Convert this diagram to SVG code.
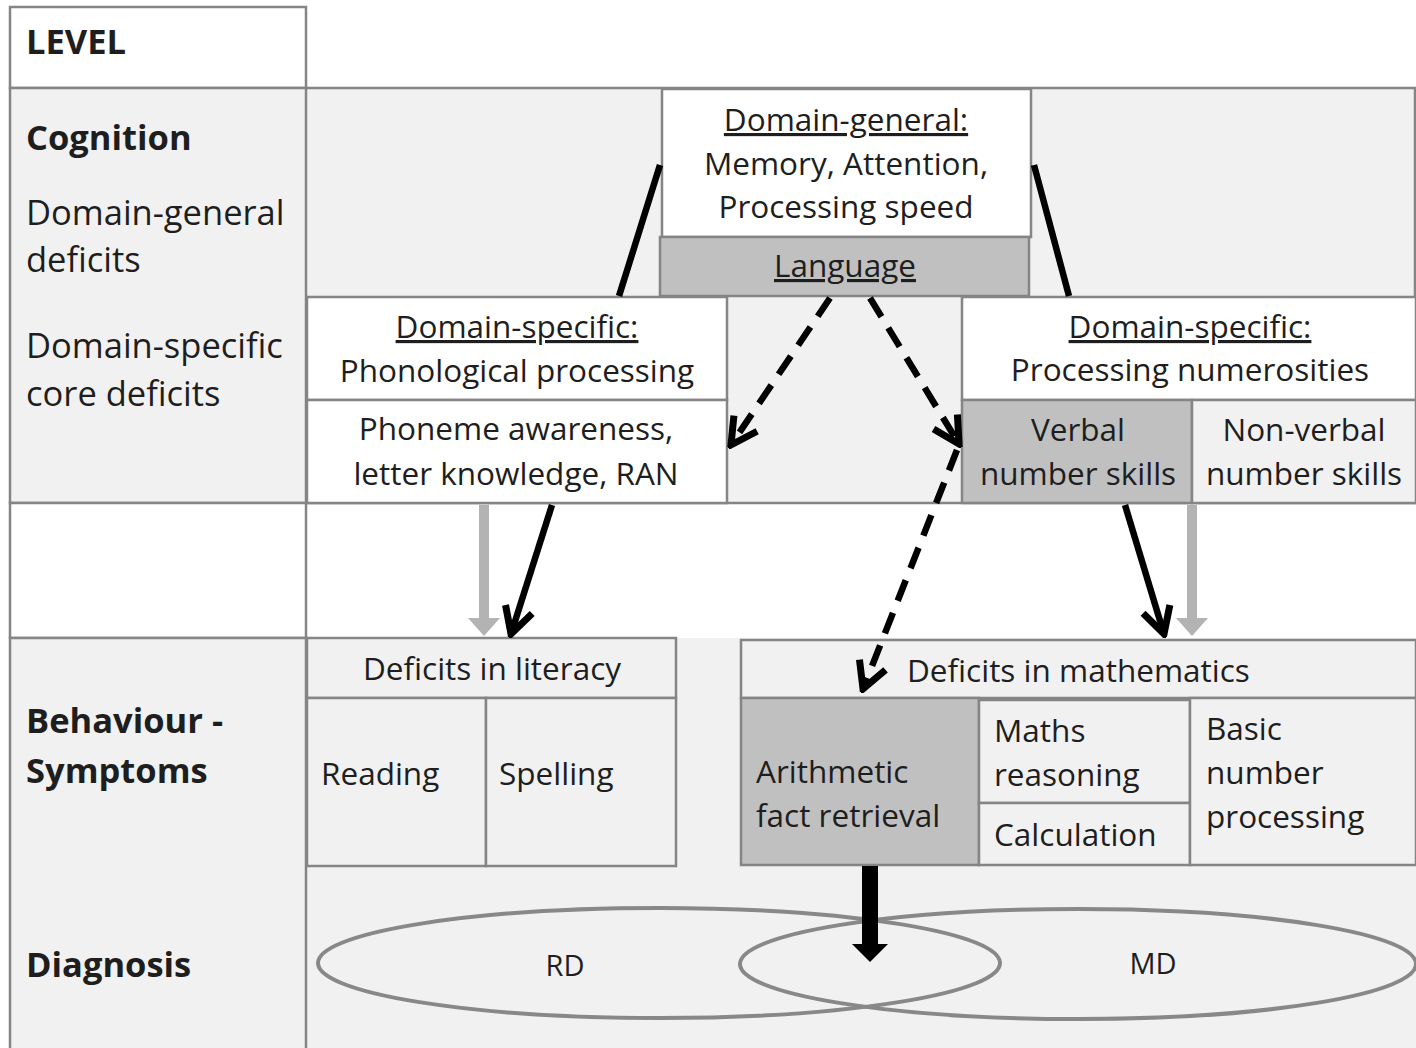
<svg xmlns="http://www.w3.org/2000/svg" width="1416" height="1048" viewBox="0 0 1416 1048">
<style>
.t{font-family:"Open Sans","Liberation Sans",sans-serif;font-size:31.5px;fill:#1e1e1e}
.l{font-family:"Open Sans","Liberation Sans",sans-serif;font-size:34.5px;fill:#1e1e1e}
.b{font-weight:bold}
.c{text-anchor:middle}
.u{text-decoration:underline}
.box{stroke:#858585;stroke-width:2.5}
.w{fill:#ffffff}
.g{fill:#f1f1f1}
.d{fill:#c0c0c0}
.blk{stroke:#000;stroke-width:6.5;fill:none}
.dash{stroke-dasharray:22 13}
.gray{stroke:#b3b3b3;stroke-width:10;fill:none}
</style>
<defs>
<marker id="v" viewBox="-32 -18 36 36" markerWidth="36" markerHeight="36" refX="0" refY="0" orient="auto" markerUnits="userSpaceOnUse">
<path d="M-26,-14 L0,0 L-26,14" fill="none" stroke="#000" stroke-width="7"/>
</marker>
</defs>
<rect x="0" y="0" width="1416" height="1048" fill="#ffffff"/>
<rect x="306" y="88" width="1110" height="415" fill="#f1f1f1"/>
<rect x="306" y="638" width="1110" height="410" fill="#f1f1f1"/>
<line x1="306" y1="88" x2="1416" y2="88" class="box"/>
<line x1="306" y1="503" x2="1416" y2="503" class="box"/>
<line x1="1415" y1="88" x2="1415" y2="503" class="box"/>

<g id="level-col">
<rect x="10" y="7" width="296" height="81" class="box w"/>
<rect x="10" y="88" width="296" height="415" class="box g"/>
<rect x="10" y="503" width="296" height="135" class="box w"/>
<rect x="10" y="638" width="296" height="412" class="box g"/>
<text x="26" y="54" class="l b">LEVEL</text>
<text x="26" y="150" class="l b">Cognition</text>
<text x="26" y="225" class="l">Domain-general</text>
<text x="26" y="272" class="l">deficits</text>
<text x="26" y="358" class="l">Domain-specific</text>
<text x="26" y="406" class="l">core deficits</text>
<text x="26" y="733" class="l b">Behaviour -</text>
<text x="26" y="783" class="l b">Symptoms</text>
<text x="26" y="977" class="l b">Diagnosis</text>
</g>

<g id="domain-general">
<rect x="662" y="89" width="369" height="148" class="box w"/>
<text x="846" y="131" class="t c u">Domain-general:</text>
<text x="846" y="175" class="t c">Memory, Attention,</text>
<text x="846" y="218" class="t c">Processing speed</text>
</g>
<g id="language">
<rect x="660" y="237" width="369" height="59" class="box d"/>
<text x="845" y="277" class="t c u">Language</text>
</g>

<g id="ds-phon">
<rect x="307" y="297" width="420" height="103" class="box w"/>
<text x="517" y="338" class="t c u">Domain-specific:</text>
<text x="517" y="382" class="t c">Phonological processing</text>
</g>
<g id="phoneme">
<rect x="307" y="400" width="420" height="103" class="box w"/>
<text x="516" y="440" class="t c">Phoneme awareness,</text>
<text x="516" y="485" class="t c">letter knowledge, RAN</text>
</g>

<g id="ds-num">
<rect x="962" y="297" width="454" height="103" class="box w"/>
<text x="1190" y="338" class="t c u">Domain-specific:</text>
<text x="1190" y="381" class="t c">Processing numerosities</text>
</g>
<g id="verbal">
<rect x="962" y="400" width="230" height="103" class="box d"/>
<text x="1078" y="441" class="t c">Verbal</text>
<text x="1078" y="485" class="t c">number skills</text>
</g>
<g id="nonverbal">
<rect x="1192" y="400" width="224" height="103" class="box g"/>
<text x="1304" y="441" class="t c">Non-verbal</text>
<text x="1304" y="485" class="t c">number skills</text>
</g>

<g id="literacy">
<rect x="307" y="638" width="369" height="60" class="box g"/>
<text x="492" y="680" class="t c">Deficits in literacy</text>
</g>
<g id="reading">
<rect x="307" y="698" width="179" height="168" class="box g"/>
<text x="321" y="785" class="t">Reading</text>
</g>
<g id="spelling">
<rect x="486" y="698" width="190" height="168" class="box g"/>
<text x="499" y="785" class="t">Spelling</text>
</g>

<g id="mathematics">
<rect x="741" y="640" width="675" height="58" class="box g"/>
<text x="907" y="682" class="t">Deficits in mathematics</text>
</g>
<g id="arithmetic">
<rect x="741" y="698" width="238" height="167" class="box d"/>
<text x="756" y="783" class="t">Arithmetic</text>
<text x="756" y="827" class="t">fact retrieval</text>
</g>
<g id="reasoning">
<rect x="979" y="700" width="211" height="103" class="box g"/>
<text x="994" y="742" class="t">Maths</text>
<text x="994" y="786" class="t">reasoning</text>
</g>
<g id="calculation">
<rect x="979" y="803" width="211" height="62" class="box g"/>
<text x="994" y="846" class="t">Calculation</text>
</g>
<g id="basic">
<rect x="1190" y="698" width="226" height="167" class="box g"/>
<text x="1206" y="740" class="t">Basic</text>
<text x="1206" y="784" class="t">number</text>
<text x="1206" y="828" class="t">processing</text>
</g>

<g id="RD">
<ellipse cx="659" cy="963" rx="341" ry="55" fill="none" stroke="#888" stroke-width="4"/>
<text x="565" y="976" class="t c" style="font-size:29px">RD</text>
</g>
<g id="MD">
<ellipse cx="1078" cy="964" rx="338" ry="55" fill="none" stroke="#888" stroke-width="4"/>
<text x="1153" y="974" class="t c" style="font-size:29px">MD</text>
</g>

<g id="connectors">
<line x1="660" y1="165" x2="619" y2="296" class="blk"/>
<line x1="1034" y1="165" x2="1069" y2="296" class="blk"/>
<line x1="830" y1="298" x2="731" y2="445" class="blk dash" marker-end="url(#v)"/>
<line x1="870" y1="298" x2="959" y2="444" class="blk dash" marker-end="url(#v)"/>
<line x1="957" y1="450" x2="863" y2="689" class="blk dash" marker-end="url(#v)"/>
<line x1="552" y1="505" x2="511" y2="634" class="blk" marker-end="url(#v)"/>
<line x1="1125" y1="505" x2="1164" y2="634" class="blk" marker-end="url(#v)"/>
<line x1="484" y1="505" x2="484" y2="620" class="gray"/>
<polygon points="468,618 500,618 484,636" fill="#b3b3b3"/>
<line x1="1192" y1="505" x2="1192" y2="620" class="gray"/>
<polygon points="1176,618 1208,618 1192,636" fill="#b3b3b3"/>
<line x1="870" y1="866" x2="870" y2="948" stroke="#000" stroke-width="16"/>
<polygon points="852,944 888,944 870,962" fill="#000"/>
</g>
</svg>
